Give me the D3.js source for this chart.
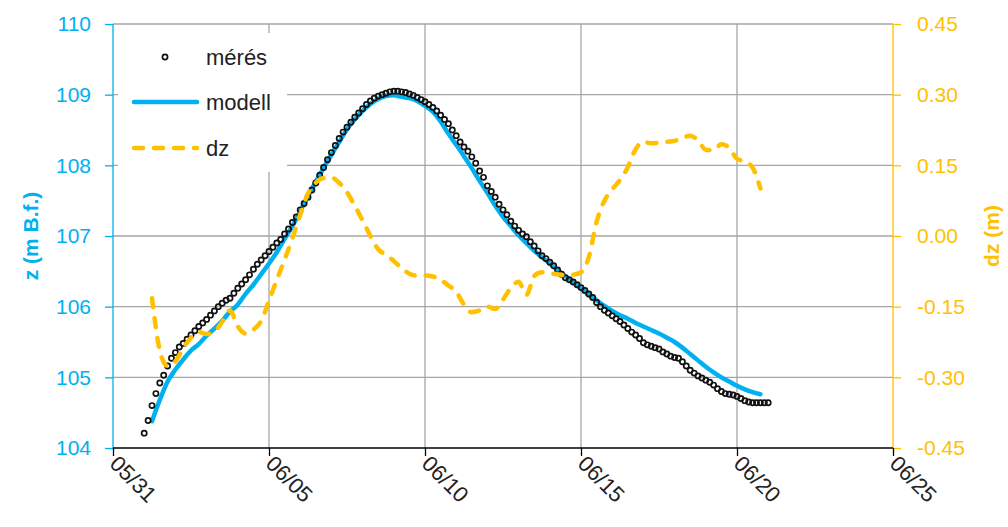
<!DOCTYPE html>
<html>
<head>
<meta charset="utf-8">
<script src="https://cdn.jsdelivr.net/npm/d3@7"></script>
<style>
  body { margin: 0; background: #fff; }
  svg { display: block; }
  text { font-family: "Liberation Sans", Arial, sans-serif; }
</style>
</head>
<body>
<svg id="chart" width="1008" height="527"></svg>
<script>
// Danube stage at the gauge, June 2013: measured levels, model run and their difference.
const year = 2013;
const xTickLabels = ["05/31", "06/05", "06/10", "06/15", "06/20", "06/25"];
const zTicks = [104, 105, 106, 107, 108, 109, 110];
const dzTicks = [-0.45, -0.30, -0.15, 0.00, 0.15, 0.30, 0.45];
const seriesNames = ["mérés", "modell", "dz"];

// measured water level (m B.f.), every 3 hours from 06/01 00:00
const measuredStart = "2013-06-01T00:00:00Z";
const measuredStepHours = 3;
const measured = [
  104.21, 104.39, 104.60, 104.77, 104.92, 105.03, 105.16, 105.27, 105.35, 105.43,
  105.48, 105.54, 105.60, 105.66, 105.72, 105.77, 105.82, 105.88, 105.94, 106.00,
  106.05, 106.09, 106.12, 106.19, 106.26, 106.32, 106.38, 106.45, 106.53, 106.60,
  106.66, 106.72, 106.78, 106.84, 106.90, 106.95, 107.03, 107.10, 107.19, 107.27,
  107.37, 107.46, 107.55, 107.65, 107.75, 107.86, 107.97, 108.08, 108.18, 108.28,
  108.38, 108.47, 108.54, 108.61, 108.68, 108.74, 108.80, 108.86, 108.91, 108.95,
  108.98, 109.00, 109.02, 109.04, 109.05, 109.05, 109.04, 109.03, 109.01, 108.99,
  108.96, 108.93, 108.90, 108.86, 108.82, 108.77, 108.71, 108.65, 108.59, 108.50,
  108.42, 108.33, 108.26, 108.20, 108.12, 108.03, 107.92, 107.83, 107.71, 107.63,
  107.55, 107.45, 107.37, 107.30, 107.21, 107.14, 107.08, 107.03, 106.99, 106.92,
  106.86, 106.79, 106.72, 106.68, 106.63, 106.58, 106.52, 106.46, 106.41, 106.38,
  106.35, 106.31, 106.27, 106.23, 106.18, 106.13, 106.06, 106.00, 105.95, 105.91,
  105.87, 105.83, 105.79, 105.74, 105.69, 105.64, 105.60, 105.55, 105.49, 105.46,
  105.44, 105.42, 105.40, 105.36, 105.33, 105.30, 105.28, 105.27, 105.22, 105.16,
  105.10, 105.06, 105.02, 104.99, 104.96, 104.93, 104.89, 104.84, 104.80, 104.77,
  104.76, 104.75, 104.73, 104.70, 104.67, 104.65, 104.64, 104.64, 104.64, 104.64,
  104.64
];

// model water level (m B.f.) and difference dz (m), every 6 hours from 06/01 06:00
const modelStart = "2013-06-01T06:00:00Z";
const modelStepHours = 6;
const model = [
  104.38, 104.68, 104.94, 105.11, 105.25, 105.38, 105.47, 105.59, 105.69, 105.80,
  105.93, 106.03, 106.18, 106.31, 106.46, 106.61, 106.77, 106.96, 107.14, 107.35,
  107.56, 107.77, 107.96, 108.15, 108.33, 108.51, 108.65, 108.77, 108.87, 108.94,
  108.98, 108.99, 108.97, 108.95, 108.91, 108.84, 108.76, 108.62, 108.45, 108.29,
  108.13, 107.96, 107.78, 107.61, 107.43, 107.27, 107.14, 107.01, 106.90, 106.79,
  106.70, 106.61, 106.52, 106.43, 106.35, 106.26, 106.17, 106.09, 106.01, 105.94,
  105.88, 105.83, 105.77, 105.72, 105.67, 105.62, 105.56, 105.50, 105.42, 105.33,
  105.24, 105.15, 105.07, 105.00, 104.94, 104.88, 104.83, 104.79, 104.76
];
const dz = [
  -0.132, -0.243, -0.276, -0.266, -0.238, -0.216, -0.204, -0.208, -0.203, -0.182,
  -0.158, -0.192, -0.207, -0.199, -0.180, -0.137, -0.093, -0.050, -0.005, 0.045,
  0.090, 0.113, 0.123, 0.124, 0.113, 0.093, 0.064, 0.033, 0.000, -0.028,
  -0.040, -0.053, -0.068, -0.080, -0.084, -0.084, -0.086, -0.093, -0.105, -0.118,
  -0.146, -0.162, -0.158, -0.150, -0.155, -0.135, -0.110, -0.097, -0.125, -0.085,
  -0.077, -0.079, -0.081, -0.083, -0.082, -0.077, -0.045, 0.030, 0.075, 0.099,
  0.119, 0.146, 0.184, 0.200, 0.197, 0.198, 0.200, 0.202, 0.208, 0.213,
  0.203, 0.183, 0.182, 0.195, 0.187, 0.164, 0.158, 0.145, 0.101
];

const BLUE = "#00B0F0";
const ORANGE = "#FFC000";
const GRID = "#A6A6A6";

const plot = { left: 113, right: 893, top: 24, bottom: 448 };

const parseTick = s => d3.utcParse("%Y/%m/%d")(year + "/" + s);
const tickDates = xTickLabels.map(parseTick);
const fmt = d3.utcFormat("%m/%d");

const x = d3.scaleUtc()
  .domain([tickDates[0], tickDates[tickDates.length - 1]])
  .range([plot.left, plot.right]);
const yZ = d3.scaleLinear().domain([104, 110]).range([plot.bottom, plot.top]);
const yD = d3.scaleLinear().domain([-0.45, 0.45]).range([plot.bottom, plot.top]);

const mStart = new Date(measuredStart);
const measuredPts = measured.map((v, i) => ({ t: d3.utcHour.offset(mStart, i * measuredStepHours), v }));
const sStart = new Date(modelStart);
const modelPts = model.map((v, i) => ({ t: d3.utcHour.offset(sStart, i * modelStepHours), v }));
const dzPts = dz.map((v, i) => ({ t: d3.utcHour.offset(sStart, i * modelStepHours), v }));

const svg = d3.select("#chart");

// gridlines
const grid = svg.append("g");
grid.selectAll("line.h").data(zTicks.filter(v => v !== 104)).join("line")
  .attr("x1", plot.left).attr("x2", plot.right)
  .attr("y1", d => yZ(d)).attr("y2", d => yZ(d))
  .attr("stroke", GRID).attr("stroke-width", 1.3);
grid.selectAll("line.v").data(tickDates.slice(1, -1)).join("line")
  .attr("x1", d => x(d)).attr("x2", d => x(d))
  .attr("y1", plot.top).attr("y2", plot.bottom)
  .attr("stroke", GRID).attr("stroke-width", 1.3);

// series
const modelLine = d3.line().x(d => x(d.t)).y(d => yZ(d.v)).curve(d3.curveMonotoneX);
svg.append("path").datum(modelPts)
  .attr("d", modelLine)
  .attr("fill", "none").attr("stroke", BLUE).attr("stroke-width", 4.5)
  .attr("stroke-linejoin", "round").attr("stroke-linecap", "round");

svg.append("g").selectAll("circle").data(measuredPts).join("circle")
  .attr("cx", d => x(d.t)).attr("cy", d => yZ(d.v)).attr("r", 2.6)
  .attr("fill", "none").attr("stroke", "#111").attr("stroke-width", 1.7);

const dzLine = d3.line().x(d => x(d.t)).y(d => yD(d.v)).curve(d3.curveMonotoneX);
svg.append("path").datum(dzPts)
  .attr("d", dzLine)
  .attr("fill", "none").attr("stroke", ORANGE).attr("stroke-width", 4.5)
  .attr("stroke-dasharray", "9,11").attr("stroke-linecap", "round")
  .attr("stroke-linejoin", "round");

// axes
const leftAxis = svg.append("g").attr("transform", `translate(${plot.left},0)`)
  .call(d3.axisLeft(yZ).tickValues(zTicks).tickSize(8).tickPadding(14).tickFormat(d3.format("d")));
leftAxis.select(".domain").attr("stroke", BLUE).attr("stroke-width", 1.3).attr("d", `M0,${plot.top}V${plot.bottom}`);
leftAxis.selectAll(".tick line").attr("stroke", BLUE).attr("stroke-width", 1.3);
leftAxis.selectAll(".tick text").attr("fill", BLUE).style("font-size", "21px")
  .style("font-family", "'Liberation Sans', Arial, sans-serif");

const rightAxis = svg.append("g").attr("transform", `translate(${plot.right},0)`)
  .call(d3.axisRight(yD).tickValues(dzTicks).tickSize(8).tickPadding(16).tickFormat(d3.format(".2f")));
rightAxis.select(".domain").attr("stroke", ORANGE).attr("stroke-width", 1.3).attr("d", `M0,${plot.top}V${plot.bottom}`);
rightAxis.selectAll(".tick line").attr("stroke", ORANGE).attr("stroke-width", 1.3);
rightAxis.selectAll(".tick text").attr("fill", ORANGE).style("font-size", "21px")
  .style("font-family", "'Liberation Sans', Arial, sans-serif")
  .text(d => d3.format(".2f")(d).replace("−", "-"));

const bottomAxis = svg.append("g").attr("transform", `translate(0,${plot.bottom})`)
  .call(d3.axisBottom(x).tickValues(tickDates).tickSize(8).tickFormat(fmt));
bottomAxis.select(".domain").attr("stroke", "#000").attr("stroke-width", 1.3).attr("d", `M${plot.left},0H${plot.right}`);
bottomAxis.selectAll(".tick line").attr("stroke", "#000").attr("stroke-width", 1.3);
bottomAxis.selectAll(".tick text")
  .attr("fill", "#222").style("font-size", "22px")
  .style("font-family", "'Liberation Sans', Arial, sans-serif")
  .attr("text-anchor", "start").attr("dy", null)
  .attr("y", 0).attr("x", 0)
  .attr("transform", "translate(-5,17) rotate(45)");

// axis titles
svg.append("text")
  .attr("transform", `translate(30,${(plot.top + plot.bottom) / 2}) rotate(-90)`)
  .attr("text-anchor", "middle").attr("dominant-baseline", "central")
  .attr("fill", BLUE).style("font-size", "21px").style("font-weight", "bold")
  .text("z (m B.f.)");
svg.append("text")
  .attr("transform", `translate(991,${(plot.top + plot.bottom) / 2}) rotate(-90)`)
  .attr("text-anchor", "middle").attr("dominant-baseline", "central")
  .attr("fill", ORANGE).style("font-size", "21px").style("font-weight", "bold")
  .text("dz (m)");

// legend
const legend = svg.append("g");
legend.append("rect").attr("x", 118).attr("y", 33).attr("width", 169).attr("height", 139).attr("fill", "#fff");
const rows = [57, 102, 148];
legend.append("circle").attr("cx", 165).attr("cy", rows[0]).attr("r", 2.6)
  .attr("fill", "none").attr("stroke", "#111").attr("stroke-width", 1.7);
legend.append("line").attr("x1", 134).attr("x2", 197).attr("y1", rows[1]).attr("y2", rows[1])
  .attr("stroke", BLUE).attr("stroke-width", 4.5).attr("stroke-linecap", "round");
legend.append("line").attr("x1", 134).attr("x2", 197).attr("y1", rows[2]).attr("y2", rows[2])
  .attr("stroke", ORANGE).attr("stroke-width", 4.5).attr("stroke-dasharray", "9,11")
  .attr("stroke-linecap", "round");
legend.selectAll("text").data(seriesNames).join("text")
  .attr("x", 206).attr("y", (d, i) => rows[i])
  .attr("dominant-baseline", "central")
  .attr("fill", "#222").style("font-size", "22px")
  .text(d => d);
</script>
</body>
</html>
